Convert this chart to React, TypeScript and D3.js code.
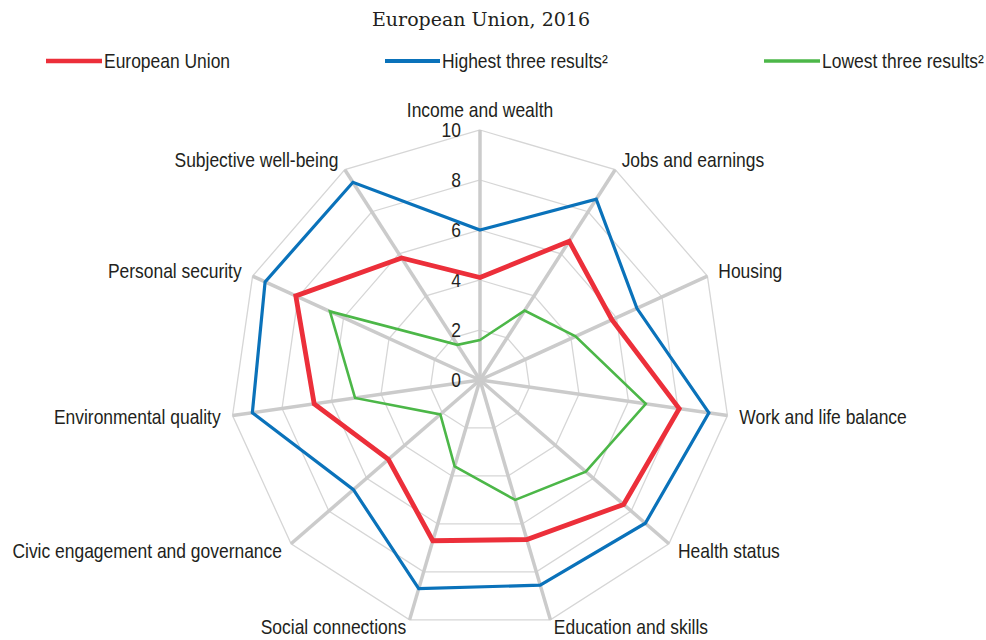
import React from "react";
import * as d3 from "d3";

const dimensions = [
  "Income and wealth",
  "Jobs and earnings",
  "Housing",
  "Work and life balance",
  "Health status",
  "Education and skills",
  "Social connections",
  "Civic engagement and governance",
  "Environmental quality",
  "Personal security",
  "Subjective well-being",
];

const euValues = [4.1, 6.6, 5.8, 8.05, 7.6, 6.65, 6.7, 4.85, 6.7, 8.1, 5.8];
const highestValues = [6.0, 8.6, 6.9, 9.25, 8.75, 8.55, 8.7, 6.7, 9.2, 9.45, 9.4];
const lowestValues = [1.6, 3.3, 4.2, 6.7, 5.6, 5.0, 3.6, 2.1, 5.05, 6.6, 1.67];

const tickValues = [0, 2, 4, 6, 8, 10];
const seriesNames = ["European Union", "Highest three results²", "Lowest three results²"];
const subtitle = "European Union, 2016";

const W = 986;
const H = 640;
const CX = 480;
const CY = 380;
const R = 250;

const FONT = "'Liberation Sans', Arial, Helvetica, sans-serif";
const FS = 19.4;
const SX = 0.9;
const DY = 1.8;

function Label({ x, y, text, anchor = "start", baseline = "middle" }: any) {
  return (
    <text
      transform={`translate(${x},${y + (baseline === "middle" ? DY : 0)}) scale(${SX},1)`}
      textAnchor={anchor}
      dominantBaseline={baseline}
      fontFamily={FONT}
      fontSize={FS}
      fill="#231f20"
    >
      {text}
    </text>
  );
}

export default function App() {
  const n = dimensions.length;
  const angle = d3
    .scaleLinear()
    .domain([0, n])
    .range([0, 2 * Math.PI]);
  const r = d3.scaleLinear().domain([0, 10]).range([0, R]);

  const pt = (i: number, v: number): [number, number] => {
    const a = angle(i);
    return [CX + r(v) * Math.sin(a), CY - r(v) * Math.cos(a)];
  };

  const lineGen = d3
    .lineRadial<number>()
    .angle((_, i) => angle(i))
    .radius((v) => r(v))
    .curve(d3.curveLinearClosed);

  const series = [
    { name: seriesNames[1], values: highestValues, color: "#0a72ba", width: 3.2 },
    { name: seriesNames[2], values: lowestValues, color: "#4cb748", width: 2.6 },
    { name: seriesNames[0], values: euValues, color: "#ec2f3a", width: 4.8 },
  ];

  const legend = [
    { name: seriesNames[0], color: "#ec2f3a", x1: 46, x2: 102, w: 4.5 },
    { name: seriesNames[1], color: "#0a72ba", x1: 385, x2: 440, w: 4 },
    { name: seriesNames[2], color: "#4cb748", x1: 764, x2: 820, w: 3.5 },
  ];

  const gridLevels = tickValues.filter((t) => t > 0);

  return (
    <svg
      width={W}
      height={H}
      style={{ position: "absolute", left: 0, top: 0, background: "#ffffff" }}
    >
      <text
        x={CX + 1}
        y={21}
        textAnchor="middle"
        dominantBaseline="middle"
        fontFamily="'DejaVu Serif', 'Liberation Serif', serif"
        fontSize={19}
        fill="#231f20"
      >
        {subtitle}
      </text>

      {legend.map((l) => (
        <g key={l.name}>
          <line x1={l.x1} x2={l.x2} y1={61} y2={61} stroke={l.color} strokeWidth={l.w} />
          <Label x={l.x2 + 2} y={61} text={l.name} />
        </g>
      ))}

      {/* rings */}
      {gridLevels.map((lv) => (
        <polygon
          key={lv}
          points={dimensions.map((_, i) => pt(i, lv).join(",")).join(" ")}
          fill="none"
          stroke="#d6d6d6"
          strokeWidth={1.3}
        />
      ))}

      {/* spokes */}
      {dimensions.map((d, i) => {
        const [x, y] = pt(i, 10);
        return (
          <line key={d} x1={CX} y1={CY} x2={x} y2={y} stroke="#cbcbcb" strokeWidth={3.5} />
        );
      })}

      {/* tick labels */}
      {tickValues.map((t) => (
        <Label key={t} x={CX - 19} y={CY - r(t)} text={String(t)} anchor="end" />
      ))}

      {/* series */}
      {series.map((s) => (
        <path
          key={s.name}
          d={lineGen(s.values) || ""}
          transform={`translate(${CX},${CY})`}
          fill="none"
          stroke={s.color}
          strokeWidth={s.width}
          strokeLinejoin="miter"
        />
      ))}

      {/* axis labels */}
      {dimensions.map((d, i) => {
        if (i === 0) {
          return <Label key={d} x={CX} y={CY - R - 13} text={d} anchor="middle" baseline="auto" />;
        }
        const [x, y] = pt(i, 10.48);
        const anchor = Math.sin(angle(i)) > 0 ? "start" : "end";
        return <Label key={d} x={x} y={Math.min(y, H - 13)} text={d} anchor={anchor} />;
      })}
    </svg>
  );
}
